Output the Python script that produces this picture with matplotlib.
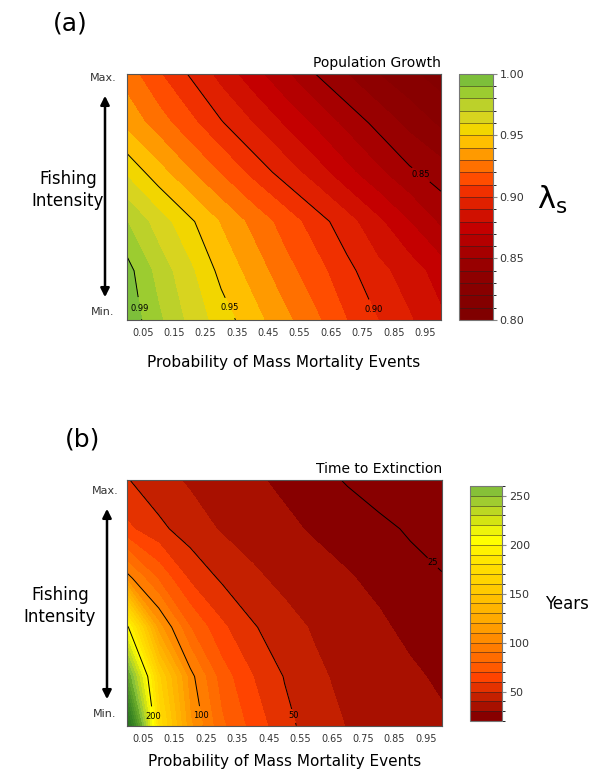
import numpy as np
import matplotlib
matplotlib.use("Agg")
import matplotlib.pyplot as plt
from matplotlib.colors import ListedColormap, BoundaryNorm
from matplotlib.cm import ScalarMappable
from matplotlib.patches import FancyArrowPatch

# grid: probability of mass mortality (x) and fishing intensity (y, min -> max)
x_grid = [0.0, 0.1, 0.2, 0.3, 0.4, 0.5, 0.6, 0.7, 0.8, 0.9, 1.0]
y_grid = [0.0, 0.2, 0.4, 0.6, 0.8, 1.0]
tick_labels = ["0.05", "0.15", "0.25", "0.35", "0.45", "0.55", "0.65", "0.75", "0.85", "0.95"]

# (a) stochastic population growth rate, rows from min to max fishing
lam_rows = [
    [0.997, 0.982, 0.967, 0.955, 0.944, 0.933, 0.922, 0.910, 0.900, 0.891, 0.882],
    [0.994, 0.976, 0.962, 0.947, 0.936, 0.924, 0.914, 0.903, 0.893, 0.885, 0.875],
    [0.980, 0.965, 0.952, 0.939, 0.927, 0.916, 0.905, 0.894, 0.882, 0.870, 0.858],
    [0.958, 0.944, 0.931, 0.919, 0.907, 0.896, 0.885, 0.873, 0.862, 0.852, 0.845],
    [0.937, 0.925, 0.913, 0.901, 0.890, 0.879, 0.868, 0.857, 0.847, 0.837, 0.828],
    [0.925, 0.911, 0.899, 0.886, 0.874, 0.862, 0.850, 0.840, 0.830, 0.822, 0.815],
]
lam_levels = [round(0.80 + 0.01 * i, 2) for i in range(21)]
lam_lines = [0.85, 0.90, 0.95, 0.99]
lam_colors = ["#800000", "#840000", "#880000", "#8e0000", "#980000",
              "#a60000", "#b40000", "#c40000", "#d01000", "#e02000",
              "#f03000", "#ff4d00", "#ff7000", "#ff9a00", "#ffbf00",
              "#f2d600", "#d8d41f", "#bcd12a", "#9ccc30", "#7dbf3a"]

# (b) time to extinction (years)
tte_rows = [
    [330, 177, 112, 82, 66, 53, 45, 39.5, 36, 33, 31],
    [270, 162, 104, 75, 60, 49.5, 42, 37, 33.5, 31, 29],
    [203, 114, 80, 62, 51, 44, 38.5, 34, 31, 28.5, 26.5],
    [104, 78, 58, 48.5, 42, 37, 33, 30.5, 28.5, 26.5, 25.3],
    [62, 52.5, 45, 39, 35, 31.5, 29, 27.5, 26, 24.5, 23],
    [50.5, 43.5, 38.5, 34, 31, 28.5, 26.5, 24.6, 23, 21.5, 20.5],
]
tte_levels = list(range(20, 350, 10))
tte_lines = [25, 50, 100, 200]
tte_colors = ["#880000", "#a81000", "#c42000", "#e43200", "#ff4400",
              "#ff5a00", "#ff6c00", "#ff7c00", "#ff8c00", "#ff9c00",
              "#ffaa00", "#ffb400", "#ffbf00", "#ffca00", "#ffd400",
              "#ffdc00", "#ffe600", "#fff200", "#ffff00", "#eef40a",
              "#d4e412", "#bcd822", "#a0cc30", "#86c038", "#68aa2a",
              "#5a9e28", "#4c9426", "#408a24", "#368222", "#2f7a20",
              "#2a721e", "#266a1c"]
n_bar = 24

fig = plt.figure(figsize=(5.91, 7.74), dpi=100)
X, Y = np.meshgrid(x_grid, y_grid)


def panel(rect, Z, levels, colors, lines, manual, title, labelpad):
    ax = fig.add_axes(rect)
    ax.contourf(X, Y, np.array(Z), levels=levels, colors=colors)
    cs = ax.contour(X, Y, np.array(Z), levels=lines, colors="black", linewidths=0.7)
    labs = ax.clabel(cs, fontsize=6, manual=manual, inline=True, inline_spacing=2)
    for t in labs:
        t.set_rotation(0)
    ax.set_xlim(0, 1)
    ax.set_ylim(0, 1)
    ax.set_xticks([0.05 + 0.1 * i for i in range(10)])
    ax.set_xticklabels(tick_labels, fontsize=7, color="#333333")
    ax.set_yticks([])
    ax.tick_params(axis="x", length=0, pad=6)
    for s in ax.spines.values():
        s.set_color("#555555")
        s.set_linewidth(0.8)
    ax.set_xlabel("Probability of Mass Mortality Events", fontsize=11, labelpad=labelpad)
    ax.set_title(title, loc="right", fontsize=10, pad=5)
    return ax


panel([0.215, 0.5866, 0.531, 0.318], lam_rows, lam_levels, lam_colors, lam_lines,
      [(0.05, 0.05), (0.33, 0.05), (0.80, 0.05), (0.93, 0.58)], "Population Growth", 12)
panel([0.2155, 0.0624, 0.532, 0.318], tte_rows, tte_levels, tte_colors, tte_lines,
      [(0.09, 0.04), (0.235, 0.04), (0.53, 0.04), (0.955, 0.64)], "Time to Extinction", 7)

# colorbars
cax_a = fig.add_axes([0.777, 0.5866, 0.0565, 0.318])
sm_a = ScalarMappable(norm=BoundaryNorm(lam_levels, 20), cmap=ListedColormap(lam_colors))
cb_a = fig.colorbar(sm_a, cax=cax_a, drawedges=True, ticks=[0.80, 0.85, 0.90, 0.95, 1.00])
cb_a.ax.set_yticklabels(["0.80", "0.85", "0.90", "0.95", "1.00"])

cax_b = fig.add_axes([0.7958, 0.0685, 0.054, 0.3036])
sm_b = ScalarMappable(norm=BoundaryNorm(tte_levels[:n_bar + 1], n_bar),
                      cmap=ListedColormap(tte_colors[:n_bar]))
cb_b = fig.colorbar(sm_b, cax=cax_b, drawedges=True, ticks=[50, 100, 150, 200, 250])

for cb in (cb_a, cb_b):
    cb.dividers.set_color("#222222")
    cb.dividers.set_linewidth(0.6)
    cb.dividers.set_alpha(0.6)
    cb.outline.set_edgecolor("#777777")
    cb.outline.set_linewidth(0.8)
    cb.ax.tick_params(labelsize=8, length=3, color="#888888", labelcolor="#333333", pad=2)

fig.text(552 / 591, 1 - 200 / 774, r"$\mathregular{\lambda_s}$", fontsize=22, ha="center", va="center")
fig.text(567 / 591, 1 - 604 / 774, "Years", fontsize=12, ha="center", va="center")

# panel letters and fishing intensity annotations
fig.text(70 / 591, 1 - 24 / 774, "(a)", fontsize=18, ha="center", va="center")
fig.text(83 / 591, 1 - 440 / 774, "(b)", fontsize=18, ha="center", va="center")

for x_arrow, y_top, y_bot, x_lab, y_lab in [(105, 93, 300, 68, 190), (107, 506, 702, 60, 606)]:
    fig.add_artist(FancyArrowPatch(
        (x_arrow / 591, 1 - y_bot / 774), (x_arrow / 591, 1 - y_top / 774),
        transform=fig.transFigure, arrowstyle="<|-|>", mutation_scale=13,
        color="black", linewidth=1.8))
    fig.text((x_arrow - 2) / 591, 1 - (y_top - 15) / 774, "Max.", fontsize=8, ha="center", va="center", color="#333333")
    fig.text((x_arrow - 2) / 591, 1 - (y_bot + 12) / 774, "Min.", fontsize=8, ha="center", va="center", color="#333333")
    fig.text(x_lab / 591, 1 - y_lab / 774, "Fishing\nIntensity", fontsize=12, ha="center", va="center", linespacing=1.3)

fig.savefig("out.png", dpi=100)
